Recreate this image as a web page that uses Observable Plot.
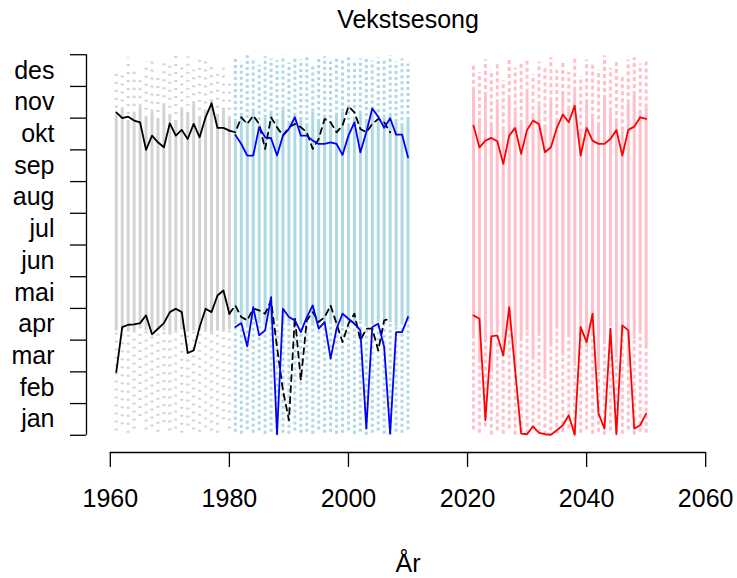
<!DOCTYPE html>
<html><head><meta charset="utf-8">
<script src="https://cdn.jsdelivr.net/npm/d3@7"></script>
<script src="https://cdn.jsdelivr.net/npm/@observablehq/plot@0.6"></script>
<style>body{margin:0;background:#fff}</style>
</head><body><div id="chart"></div>
<script>
const titleText = "Vekstsesong";
const xLabel = "År";
const months = ["jan","feb","mar","apr","mai","jun","jul","aug","sep","okt","nov","des"];
const monthEdges = [0,30.42,60.83,91.25,121.67,152.08,182.5,212.92,243.33,273.75,304.17,334.58,365];
const monthMids = [15.2,45.6,76.0,106.5,136.9,167.3,197.7,228.1,258.5,289.0,319.4,349.8];
const xTicks = [1960,1980,2000,2020,2040,2060];
const xDomain = [1956, 2064];
const yDomain = [-14.6, 379.6];

// observation-based series (black), 1961-2007 (solid to 1980, dashed after)
const blackYears = d3.range(1961, 2008);
const blackUpper = [309.7,304.3,305.6,301.8,300.2,273.7,287.4,281.0,276.2,299.2,287.4,292.9,284.2,298.6,285.8,305.0,318.4,294.8,294.8,292.2,
  290.6,305.0,298.6,306.6,298.6,274.6,305.0,295.4,287.4,295.4,298.6,295.4,290.6,274.6,284.2,303.4,300.2,290.6,297.0,315.5,309.7,293.8,290.6,298.6,303.4,300.2,290.6];
const blackLower = [60.6,103.8,106.0,106.3,107.6,115.0,96.8,102.2,107.6,118.1,121.4,118.1,78.9,81.4,103.8,121.4,118.1,134.1,138.9,116.6,
  124.5,113.4,110.2,121.4,119.8,116.6,129.3,84.6,43.0,14.4,113.4,52.7,110.2,118.1,108.6,113.4,124.5,107.0,89.4,107.0,116.6,91.0,102.2,102.2,81.4,110.2,111.8];

// hindcast (blue), 1981-2010
const blueYears = d3.range(1981, 2011);
const blueUpper = [288.0,279.4,268.3,268.3,295.4,285.8,284.9,268.3,287.4,293.8,305.0,287.4,287.4,282.6,279.4,279.4,281.0,279.4,268.9,287.4,300.1,271.4,290.6,313.5,305.6,295.0,304.1,288.4,288.4,266.6];
const blueLower = [103.8,107.6,85.3,122.9,95.8,100.6,132.5,1,121.4,113.4,110.2,99.0,113.4,124.5,102.2,108.6,73.5,102.2,116.6,111.8,107.0,100.6,6.4,103.8,107.0,84.6,1.6,99.0,99.0,113.4];

// scenario (red), 2021-2050
const redYears = d3.range(2021, 2051);
const redUpper = [297.0,276.2,282.6,285.2,282.0,260.3,287.4,294.8,269.9,292.9,301.8,298.6,271.4,276.2,294.8,307.5,300.2,316.2,268.3,294.8,282.6,279.5,279.5,284.2,292.9,268.3,292.9,296.0,305.0,303.4];
const redLower = [115.0,111.8,14.4,94.8,95.8,76.6,122.9,62.3,1.6,1.0,8.6,2.2,1.0,0.5,4.8,9.6,19.2,0.5,103.8,89.4,116.6,20.8,6.4,102.2,1.0,105.4,100.6,6.4,9.6,20.8];

// ensemble spread bars
const greyYears = d3.range(1961, 1981);
const greySolidHigh = [306,312,300,308,315,304,310,302,316,306,300,312,308,318,304,310,320,306,312,304];
const greyDotHigh = [352,345,362,350,340,358,360,348,362,355,364,358,363,350,360,362,356,346,352,340];
const greySolidLow = [100,101,99,100,102,100,99,101,100,98,100,101,99,100,100,101,98,100,99,101];
const greyDotLow = [4,10,2,6,18,5,8,3,12,4,6,2,9,5,3,7,4,2,15,6];

const blueSolidHigh = [300,306,298,310,296,304,308,300,312,298,306,302,296,310,300,304,298,306,310,296,302,308,300,312,298,304,306,300,296,302];
const blueDotHigh = [362,358,364,360,355,363,361,359,364,357,362,360,364,356,361,363,358,362,360,364,357,361,363,359,362,360,364,358,361,356];
const blueSolidLow = [106,108,104,110,107,105,109,112,106,108,104,107,110,106,108,105,109,107,104,108,106,110,105,107,109,106,108,104,107,110];
const blueDotLow = [3,1,5,2,4,1,3,0,2,1,4,2,3,1,5,2,3,1,2,4,1,3,0,2,4,1,0,3,2,5];

const pinkSolidHigh = [330,300,325,296,318,292,322,310,298,328,305,316,294,320,300,326,312,330,290,318,304,296,322,310,300,292,318,326,308,314];
const pinkDotHigh = [355,348,360,350,358,340,362,352,356,360,346,358,354,362,350,358,348,362,344,360,356,350,364,352,358,346,360,362,356,358];
const pinkSolidLow = [96,70,92,60,98,80,104,64,90,100,72,95,58,88,102,76,94,66,100,84,98,62,90,104,74,96,68,92,100,86];
const pinkDotLow = [5,2,8,0,4,1,6,0,3,1,5,2,0,4,1,3,6,0,2,5,1,3,0,4,2,1,5,0,3,2];

function bars(years, dlo, lo, hi, dhi, color, dash) {
  return [
    Plot.ruleX(years, {x: d => d, y1: (d,i) => dlo[i], y2: (d,i) => lo[i], stroke: color, strokeWidth: 3, strokeDasharray: dash}),
    Plot.ruleX(years, {x: d => d, y1: (d,i) => hi[i], y2: (d,i) => dhi[i], stroke: color, strokeWidth: 3, strokeDasharray: dash}),
    Plot.ruleX(years, {x: d => d, y1: (d,i) => lo[i], y2: (d,i) => hi[i], stroke: color, strokeWidth: 3})
  ];
}

const black = blackYears.map((yr, i) => ({yr, up: blackUpper[i], lo: blackLower[i]}));
const blackSolid = black.filter(d => d.yr <= 1980);
const blackDashed = black.filter(d => d.yr >= 1980);
const blue = blueYears.map((yr, i) => ({yr, up: blueUpper[i], lo: blueLower[i]}));
const red = redYears.map((yr, i) => ({yr, up: redUpper[i], lo: redLower[i]}));

const lw = 1.8;
const chart = Plot.plot({
  width: 737, height: 578,
  marginLeft: 86, marginRight: 8, marginTop: 39, marginBottom: 128,
  x: {domain: xDomain},
  y: {domain: yDomain},
  style: {fontFamily: "'Liberation Sans', Arial, sans-serif", fontSize: "25px", background: "white", color: "black"},
  marks: [
    ...bars(greyYears, greyDotLow, greySolidLow, greySolidHigh, greyDotHigh, "#d3d3d3", "2,6"),
    ...bars(blueYears, blueDotLow, blueSolidLow, blueSolidHigh, blueDotHigh, "#add8e6", "3,3"),
    ...bars(redYears, pinkDotLow, pinkSolidLow, pinkSolidHigh, pinkDotHigh, "#ffc0cb", "4,3"),
    Plot.line(blackSolid, {x: "yr", y: "up", stroke: "black", strokeWidth: lw}),
    Plot.line(blackSolid, {x: "yr", y: "lo", stroke: "black", strokeWidth: lw}),
    Plot.line(blackDashed, {x: "yr", y: "up", stroke: "black", strokeWidth: lw, strokeDasharray: "6,5"}),
    Plot.line(blackDashed, {x: "yr", y: "lo", stroke: "black", strokeWidth: lw, strokeDasharray: "6,5"}),
    Plot.line(blue, {x: "yr", y: "up", stroke: "#0000ff", strokeWidth: lw}),
    Plot.line(blue, {x: "yr", y: "lo", stroke: "#0000ff", strokeWidth: lw}),
    Plot.line(red, {x: "yr", y: "up", stroke: "#ff0000", strokeWidth: lw}),
    Plot.line(red, {x: "yr", y: "lo", stroke: "#ff0000", strokeWidth: lw}),
    // axes
    Plot.ruleX([xDomain[0]], {y1: monthEdges[0], y2: monthEdges[12], stroke: "black", strokeWidth: 1.3}),
    Plot.axisY({ticks: monthEdges, tickSize: 16, tickFormat: () => "", stroke: "black", strokeWidth: 1.3, label: null}),
    Plot.axisY({ticks: monthMids, tickSize: 0, tickPadding: 32, tickFormat: (d, i) => months[i], fontSize: 25, label: null}),
    Plot.ruleY([yDomain[0]], {x1: xTicks[0], x2: xTicks[xTicks.length-1], dy: 2, stroke: "black", strokeWidth: 1.3}),
    Plot.axisX({ticks: xTicks, tickSize: 15, tickPadding: 22, tickFormat: d => String(d), fontSize: 25, label: null, dy: 2, stroke: "black", strokeWidth: 1.3}),
    Plot.text([titleText], {frameAnchor: "top", dy: -20, fontSize: 25, lineAnchor: "middle"}),
    Plot.text([xLabel], {frameAnchor: "bottom", dy: 113, fontSize: 25, lineAnchor: "middle"})
  ]
});
document.getElementById("chart").appendChild(chart);
</script>
</body></html>
